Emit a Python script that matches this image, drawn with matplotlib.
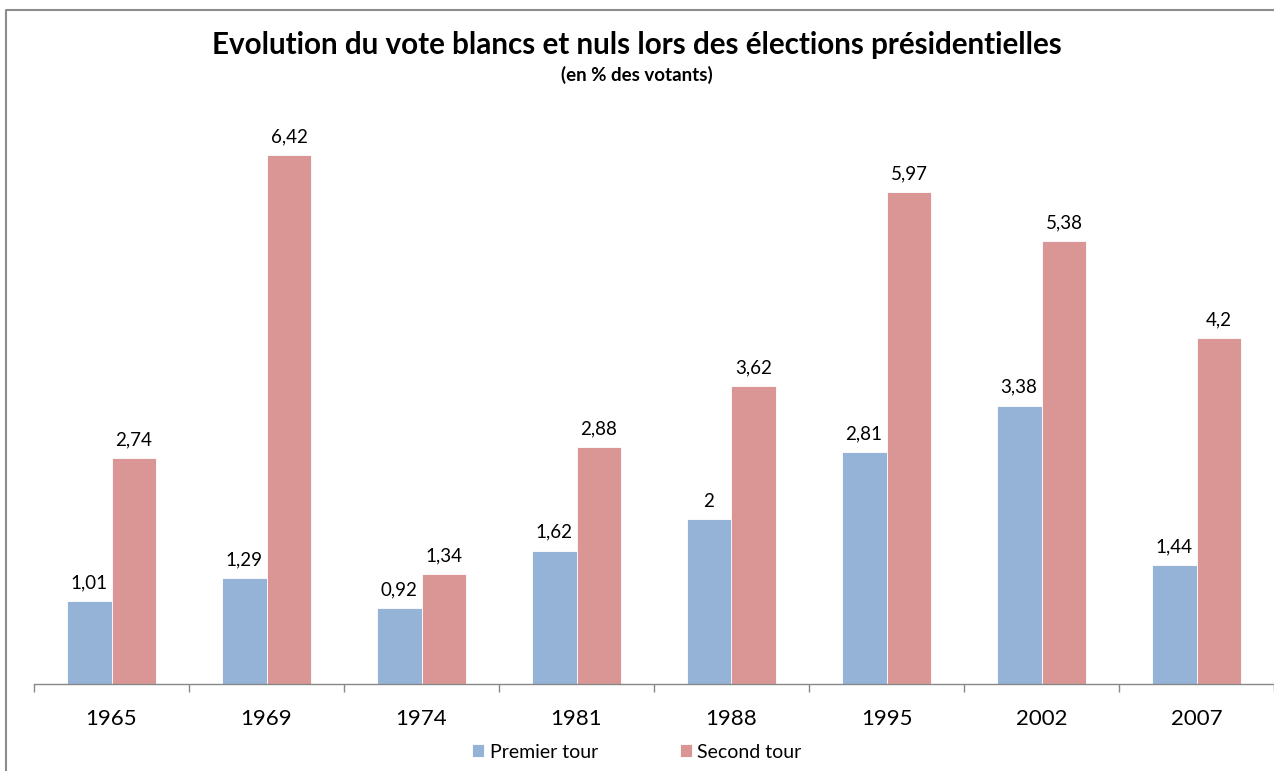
import numpy as np
import matplotlib.pyplot as plt
from matplotlib.lines import Line2D

years = ['1965', '1969', '1974', '1981', '1988', '1995', '2002', '2007']
premier_tour = [1.01, 1.29, 0.92, 1.62, 2.00, 2.81, 3.38, 1.44]
second_tour = [2.74, 6.42, 1.34, 2.88, 3.62, 5.97, 5.38, 4.20]

blue = '#95B3D7'
red = '#D99694'

plt.rcParams['font.family'] = ['Lato', 'DejaVu Sans']

fig = plt.figure(figsize=(12.74, 7.71), dpi=100)
ax = fig.add_axes([34/1274, 1-684/771, 1-34/1274, 0.748])

x = np.arange(len(years))
w = 0.29
b1 = ax.bar(x - w/2, premier_tour, w, color=blue, edgecolor='white', linewidth=0.6, label='Premier tour')
b2 = ax.bar(x + w/2, second_tour, w, color=red, edgecolor='white', linewidth=0.6, label='Second tour')

def fmt(v):
    s = ('%.2f' % v).rstrip('0').rstrip('.')
    return s.replace('.', ',')

for bars, vals in ((b1, premier_tour), (b2, second_tour)):
    for r, v in zip(bars, vals):
        ax.annotate(fmt(v), (r.get_x() + r.get_width()/2, v), xytext=(0, 7),
                    textcoords='offset points', ha='center', va='bottom', fontsize=13.5)

ax.set_xlim(-0.5, len(years) - 0.5)
ax.set_ylim(0, 7)
ax.set_yticks([])
for s in ['top', 'right', 'left']:
    ax.spines[s].set_visible(False)
ax.spines['bottom'].set_color('#888888')
ax.spines['bottom'].set_linewidth(1)
ax.set_xticks(np.arange(len(years) + 1) - 0.5, minor=True)
ax.set_xticks(x)
ax.set_xticklabels(years, fontsize=16)
ax.tick_params(axis='x', which='major', length=0, pad=18)
ax.tick_params(axis='x', which='minor', length=6, color='#888888', width=1)

fig.text(0.5, 1-45/771, 'Evolution du vote blancs et nuls lors des élections présidentielles',
         ha='center', va='center', fontsize=21.3, fontweight='bold')
fig.text(0.5, 1-75/771, '(en % des votants)', ha='center', va='center', fontsize=13.5, fontweight='bold')

leg = fig.legend(handles=[b1, b2], loc='center', bbox_to_anchor=(0.5, 1-752/771), ncol=2,
                 frameon=False, fontsize=14, handlelength=0.6, handleheight=0.6,
                 columnspacing=4.2, handletextpad=0.3)

# chart area border (left and top visible)
fig.add_artist(Line2D([6.5/1274, 6.5/1274, 1], [0, 1-9.5/771, 1-9.5/771],
                      color='#8c8c8c', linewidth=1.5, transform=fig.transFigure))

fig.savefig('out.png', dpi=100)
